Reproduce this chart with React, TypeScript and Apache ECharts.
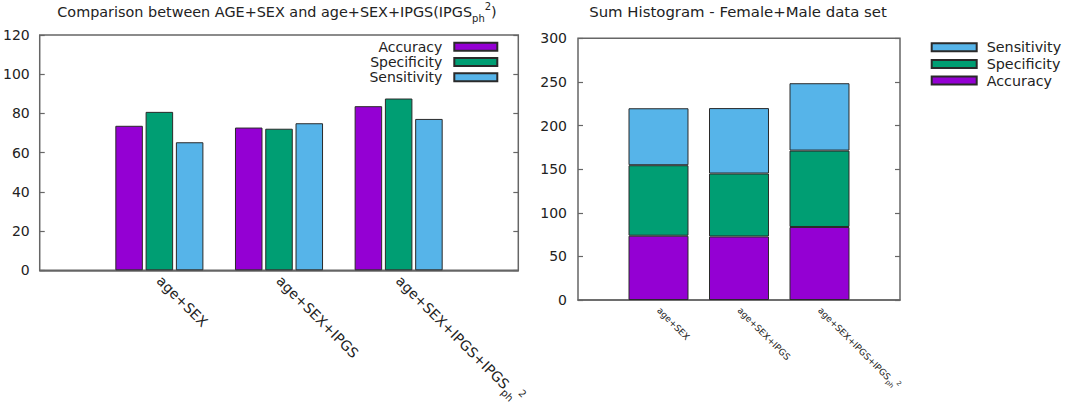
import React, { useEffect, useRef } from "react";
import * as echarts from "echarts";

// ---- data ----
const categories = ["age+SEX", "age+SEX+IPGS", "age+SEX+IPGS+IPGS_ph^2"];
const seriesNames = ["Accuracy", "Specificity", "Sensitivity"];
const accuracy = [73.7, 72.8, 83.7];
const specificity = [80.8, 72.2, 87.6];
const sensitivity = [65.3, 75.0, 77.2];
const leftTitleMain = "Comparison between AGE+SEX and age+SEX+IPGS(IPGS";
const leftTitleSub = "ph";
const leftTitleSup = "2";
const rightTitle = "Sum Histogram - Female+Male data set";
const leftYAxis = { min: 0, max: 120, interval: 20 };
const rightYAxis = { min: 0, max: 300, interval: 50 };

const COLORS = ["#9400D3", "#009E73", "#56B4E9"];
const FONT = "DejaVu Sans";
const TXT = "#222";
const BORDER = "#666";

const pad = (arr: any[]) => [null, ...arr, null];
const paddedCats = ["", ...categories, ""];

function labelRich(v: string) {
  if (!v) return "";
  const m = v.match(/^(.*)_(\w+)\^(\w+)$/);
  if (m) return `{m|${m[1]}}{sub|${m[2]}}{sup|${m[3]}}`;
  return `{m|${v}}`;
}

function richStyles(size: number, small: number) {
  return {
    m: { fontSize: size, fontFamily: FONT, color: TXT, lineHeight: Math.round(size * 1.6) },
    sub: { fontSize: small, fontFamily: FONT, color: TXT, verticalAlign: "bottom", lineHeight: Math.round(small * 1.2) },
    sup: { fontSize: small, fontFamily: FONT, color: TXT, verticalAlign: "top", lineHeight: Math.round(small * 1.2) },
  };
}

function titleRich(size: number) {
  const small = Math.round(size * 0.7);
  return {
    t: { fontSize: size, fontFamily: FONT, fill: TXT, lineHeight: 22 },
    sub: { fontSize: small, fontFamily: FONT, fill: TXT, verticalAlign: "bottom", lineHeight: 12 },
    sup: { fontSize: small, fontFamily: FONT, fill: TXT, verticalAlign: "top", lineHeight: 12 },
  };
}

export default function App() {
  const ref = useRef<HTMLDivElement>(null);
  useEffect(() => {
    if (!ref.current) return;
    const chart = echarts.init(ref.current, undefined, { renderer: "svg" });
    const dataSets = [accuracy, specificity, sensitivity];

    const grids = [
      { left: 38.3, top: 35, width: 480, height: 236.7, show: true, borderColor: BORDER, borderWidth: 1.5 },
      { left: 578, top: 38.3, width: 322, height: 261.7, show: true, borderColor: BORDER, borderWidth: 1.5 },
    ];

    const xAxes = [0, 1].map((g) => ({
      type: "category",
      gridIndex: g,
      data: paddedCats,
      boundaryGap: false,
      axisLine: { show: true, lineStyle: { color: BORDER, width: 1.5 } },
      axisTick: { show: false },
      splitLine: { show: false },
      axisLabel: {
        interval: 0,
        rotate: -45,
        margin: g === 0 ? 8 : 9,
        formatter: (v: string) => labelRich(v),
        rich: g === 0 ? richStyles(14, 10) : richStyles(9, 6.5),
      },
    }));

    const mkY = (g: number, cfg: any, pos: string, labels: boolean) => ({
      type: "value",
      gridIndex: g,
      position: pos,
      min: cfg.min,
      max: cfg.max,
      interval: cfg.interval,
      axisLine: { show: false },
      axisTick: { show: true, inside: true, length: 5, lineStyle: { color: BORDER, width: 1.2 } },
      splitLine: { show: false },
      axisLabel: labels
        ? { show: true, fontSize: 14, fontFamily: FONT, color: TXT, margin: g === 0 ? 10 : 11 }
        : { show: false },
    });

    const yAxes = [
      mkY(0, leftYAxis, "left", true),
      mkY(0, leftYAxis, "right", false),
      mkY(1, rightYAxis, "left", true),
      mkY(1, rightYAxis, "right", false),
    ];

    const barStyle = (i: number) => ({ color: COLORS[i], borderColor: "#2a2a2a", borderWidth: 1 });

    const series: any[] = [];
    seriesNames.forEach((name, i) => {
      series.push({
        type: "bar",
        name,
        xAxisIndex: 0,
        yAxisIndex: 0,
        data: pad(dataSets[i]),
        barWidth: "23%",
        barGap: "10%",
        itemStyle: barStyle(i),
      });
    });
    seriesNames.forEach((name, i) => {
      series.push({
        type: "bar",
        name,
        xAxisIndex: 1,
        yAxisIndex: 2,
        stack: "total",
        data: pad(dataSets[i]),
        barWidth: "74.5%",
        itemStyle: barStyle(i),
      });
    });

    chart.setOption({
      animation: false,
      backgroundColor: "#fff",
      grid: grids,
      xAxis: xAxes,
      yAxis: yAxes,
      series,
      legend: [
        {
          orient: "vertical",
          align: "right",
          right: 1065 - 498.3 - 5,
          top: 34.5,
          padding: 5,
          itemWidth: 43,
          itemHeight: 8,
          itemGap: 1,
          icon: "rect",
          selectedMode: false,
          data: ["Accuracy", "Specificity", "Sensitivity"],
          textStyle: { fontSize: 14, fontFamily: FONT, color: TXT, lineHeight: 14.3, padding: [0, 7, 0, 0] },
        },
        {
          orient: "vertical",
          align: "left",
          left: 925.7,
          top: 34.2,
          padding: 5,
          itemWidth: 45,
          itemHeight: 8,
          itemGap: 0.7,
          icon: "rect",
          selectedMode: false,
          data: ["Sensitivity", "Specificity", "Accuracy"],
          textStyle: { fontSize: 14.3, fontFamily: FONT, color: TXT, lineHeight: 16, padding: [0, 0, 0, 5] },
        },
      ],
      graphic: [
        {
          type: "text",
          x: 277,
          y: 12,
          style: {
            text: `{t|${leftTitleMain}}{sub|${leftTitleSub}}{sup|${leftTitleSup}}{t|)}`,
            rich: titleRich(14.4),
            align: "center",
            verticalAlign: "middle",
          },
        },
        {
          type: "text",
          x: 738,
          y: 12,
          style: {
            text: `{t|${rightTitle}}`,
            rich: titleRich(14.9),
            align: "center",
            verticalAlign: "middle",
          },
        },
      ],
    });
    return () => chart.dispose();
  }, []);

  return (
    <div
      ref={ref}
      style={{ position: "fixed", left: 0, top: 0, width: 1065, height: 410, background: "#fff" }}
    />
  );
}
